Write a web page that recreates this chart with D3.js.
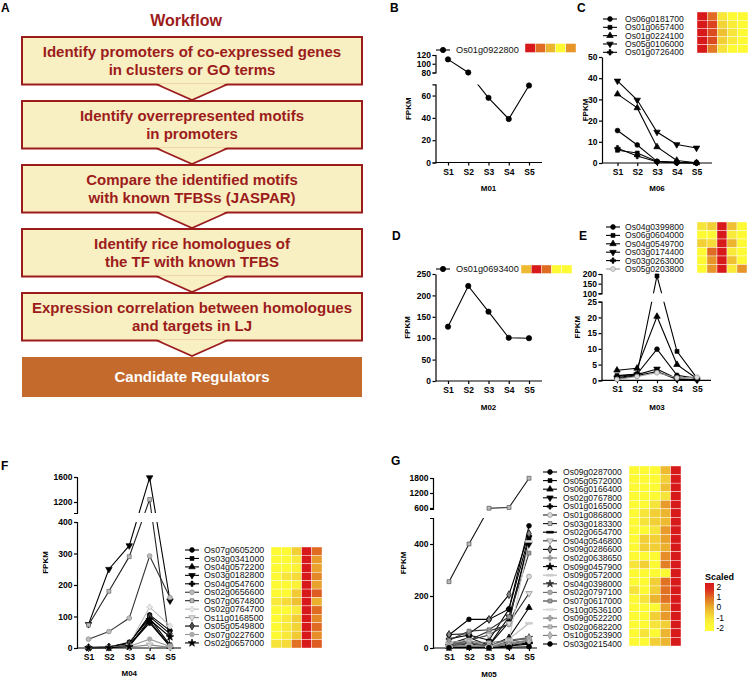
<!DOCTYPE html>
<html><head><meta charset="utf-8">
<script src="https://cdn.jsdelivr.net/npm/d3@7"></script>
<style>body{margin:0;background:#fff}svg{display:block}</style>
</head><body>
<script>
// ---------------- DATA ----------------
const stages = ["S1","S2","S3","S4","S5"];

const workflowTitle = "Workflow";
const workflowSteps = [
  ["Identify promoters of co-expressed genes","in clusters or GO terms"],
  ["Identify overrepresented motifs","in promoters"],
  ["Compare the identified motifs","with known TFBSs (JASPAR)"],
  ["Identify rice homologues of","the TF with known TFBS"],
  ["Expression correlation between homologues","and targets in LJ"]
];
const workflowResult = "Candidate Regulators";

// Panel B (M01)
const genesB = ["Os01g0922800"];
const fpkmB = [[110, 80, 58, 39, 69]];
const heatB = [[2, 1, -0.1, -1.8, 0.4]];
const ticksB_low = [0, 20, 40, 60];
const ticksB_up = [80, 100, 120];

// Panel C (M06)
const genesC = ["Os06g0181700","Os01g0657400","Os01g0224100","Os05g0106000","Os01g0726400"];
const fpkmC = [
  [15.3, 8.5, 0.8, 0.3, 0.1],
  [6.0, 4.7, 0.7, 0.2, 0.1],
  [32.5, 26.0, 7.6, 1.2, 0.1],
  [38.7, 29.7, 14.6, 8.7, 7.1],
  [7.0, 3.3, 0.6, 0.1, 0.0]
];
const heatC = [
  [2, 1.0, -1.1, -1.8, -1.8],
  [2, 1.5, -0.7, -1.3, -1.8],
  [2, 1.4, -0.3, -1.0, -1.8],
  [2, 1.4, -0.6, -1.2, -1.8],
  [2, 0.8, -1.0, -1.8, -1.8]
];
const ticksC = [0, 10, 20, 30, 40, 50];

// Panel D (M02)
const genesD = ["Os01g0693400"];
const fpkmD = [[127, 222, 162, 101, 100]];
const heatD = [[-0.2, 2, 1.0, -1.8, -1.8]];
const ticksD = [0, 50, 100, 150, 200, 250];

// Panel E (M03)
const genesE = ["Os04g0399800","Os06g0604000","Os04g0549700","Os03g0174400","Os03g0263000","Os05g0203800"];
const fpkmE = [
  [1.2, 2.0, 9.9, 1.6, 0.6],
  [1.5, 2.0, 190, 9.2, 0.7],
  [3.2, 3.8, 20.3, 5.0, 0.5],
  [0.8, 1.8, 3.6, 0.5, 0.2],
  [0.5, 1.5, 2.8, 0.3, 0.1],
  [0.3, 1.2, 2.4, 0.8, 1.0]
];
const heatE = [
  [-1.0, -0.6, 2, -0.3, -1.8],
  [-1.8, -1.8, 2, -1.2, -1.8],
  [-0.6, -0.8, 2, -0.1, -1.8],
  [-1.8, 1.0, 2, -1.2, -1.8],
  [-1.8, 0.4, 2, -0.3, -1.8],
  [-1.8, 0.4, 2, -1.2, 0.4]
];
const ticksE_low = [0, 5, 10, 15, 20, 25];
const ticksE_up = [100, 150, 200];

// Panel F (M04)
const genesF = ["Os07g0605200","Os03g0341000","Os04g0572200","Os03g0182800","Os04g0547600","Os02g0656600",
  "Os07g0674800","Os02g0764700","Os11g0168500","Os05g0549800","Os07g0227600","Os02g0657000"];
const fpkmF = [
  [2, 4, 15, 105, 55],
  [1, 3, 18, 95, 10],
  [1, 3, 10, 85, 5],
  [75, 250, 325, 1590, 150],
  [0.5, 2, 8, 80, 5],
  [28, 52, 95, 292, 160],
  [73, 180, 290, 1240, 8],
  [2, 5, 12, 130, 70],
  [0.5, 1, 3, 10, 2],
  [1, 3, 15, 100, 45],
  [1, 2, 5, 28, 5],
  [0.5, 1, 4, 90, 35]
];
const heatF = [
  [-1.8, -1.8, -0.6, 2, 1.0],
  [-1.8, -1.8, -1.2, 2, 0.3],
  [-1.8, -1.8, -1.5, 2, 0.2],
  [-1.8, -1.0, -0.8, 2, 0.6],
  [-1.8, -1.8, -1.5, 2, 0.2],
  [-1.8, -1.8, -0.5, 2, 1.2],
  [-1.2, -0.8, -0.3, 2, 0.0],
  [-1.8, -1.8, -1.2, 2, 1.0],
  [-1.8, -1.2, -0.6, 2, 0.6],
  [-1.8, -1.2, -0.7, 2, 1.0],
  [-1.8, -1.2, -0.5, 2, 0.5],
  [-1.0, -0.8, 0.9, 2, 1.2]
];
const ticksF_low = [0, 100, 200, 300, 400];
const ticksF_up = [1200, 1600];

// Panel G (M05)
const genesG = ["Os09g0287000","Os05g0572000","Os06g0166400","Os02g0767800","Os01g0165000","Os01g0868000",
  "Os03g0183300","Os02g0654700","Os04g0546800","Os09g0286600","Os02g0638650","Os09g0457900","Os09g0572000",
  "Os04g0398000","Os02g0797100","Os07g0617000","Os10g0536100","Os09g0522200","Os02g0682200","Os10g0523900","Os03g0215400"];
const fpkmG = [
  [50, 110, 110, 150, 470],
  [10, 20, 10, 100, 420],
  [5, 10, 5, 40, 155],
  [15, 40, 10, 120, 400],
  [35, 50, 30, 150, 430],
  [20, 30, 65, 90, 275],
  [255, 400, 590, 620, 1790],
  [3, 5, 3, 10, 20],
  [10, 30, 50, 95, 210],
  [52, 55, 110, 205, 440],
  [5, 10, 5, 20, 30],
  [2, 5, 2, 8, 15],
  [20, 30, 5, 35, 95],
  [8, 15, 8, 25, 40],
  [10, 20, 10, 30, 40],
  [30, 65, 70, 120, 365],
  [5, 10, 5, 30, 410],
  [3, 8, 3, 15, 30],
  [15, 25, 20, 30, 35],
  [5, 8, 5, 12, 25],
  [1, 2, 1, 3, 5]
];
const heatG = [
  [-1.8,-1.8,-1.8,-0.2,2],[-1.8,-1.8,-1.8,-0.6,2],[-1.8,-1.8,-1.8,-0.3,2],[-1.8,-1.8,-1.8,-1.0,2],
  [-1.8,-1.8,-1.0,0.3,2],[-1.8,-1.0,-0.6,-0.1,2],[-1.8,-1.0,-0.6,-0.2,2],[-1.8,-1.8,-1.0,0.3,2],
  [-1.8,-0.6,-0.6,0.2,2],[-1.8,-0.6,-0.6,0.0,2],[-1.8,-1.8,-1.8,0.5,2],[-1.0,-0.6,-1.8,0.7,2],
  [-1.8,-1.8,-1.8,-1.8,2],[-1.8,-1.8,-0.6,0.9,2],[-1.0,-1.8,-0.6,0.9,2],[-1.8,-1.0,-0.1,0.9,2],
  [-1.8,-1.8,-1.8,0.2,2],[-1.8,-1.8,-0.6,0.3,2],[-1.8,-1.8,-1.0,-0.6,2],[-1.8,-1.0,-1.8,-0.1,2],
  [-1.8,-1.8,-0.6,-0.1,2]
];
const ticksG_low = [0, 200, 400];
const ticksG_up = [600, 1200, 1800];

const colorbarTicks = [2, 1, 0, -1, -2];

// ---------------- STYLES ----------------
const FONT = "'Liberation Sans', Arial, Helvetica, sans-serif";
const DARKRED = "#9c1c1c";
const BOXFILL = "#f8efc2";
const RESULTFILL = "#c46a2d";
const heatColor = d3.scaleLinear().domain([-2,-1,0,1,2])
  .range(["#ffff33","#f7e43a","#ebb02e","#e06b22","#d7191c"]);

const st = (shape, fill, stroke, line) => ({shape, fill, stroke, line});
const stylesB = [st("circle","#000","#000","#000")];
const stylesD = [st("circle","#000","#000","#000")];
const stylesC = [st("circle","#000","#000","#000"), st("square","#000","#000","#000"), st("triangle","#000","#000","#000"),
  st("triangleDown","#000","#000","#000"), st("plus","#000","#000","#000")];
const stylesE = [st("circle","#000","#000","#000"), st("square","#000","#000","#000"), st("triangle","#000","#000","#000"),
  st("triangleDown","#000","#000","#000"), st("plus","#000","#000","#000"), st("circle","#ddd","#999","#999")];
const stylesF = [st("circle","#000","#000","#000"), st("square","#000","#000","#000"), st("triangle","#000","#000","#000"),
  st("triangleDown","#000","#000","#000"), st("plus","#000","#000","#000"), st("circle","#bbb","#888","#333"),
  st("square","#bbb","#666","#222"), st("plus","#eee","#ccc","#bbb"), st("triangleDown","#ddd","#999","#888"),
  st("diamond","#555","#000","#000"), st("circle","#aaa","#aaa","#999"), st("times","#000","#000","#000")];
const stylesG = [st("circle","#000","#000","#000"), st("square","#000","#000","#000"), st("triangle","#000","#000","#000"),
  st("triangleDown","#000","#000","#000"), st("plus","#000","#000","#000"), st("circle","#ddd","#888","#222"),
  st("square","#bbb","#555","#111"), st("dash","#000","#000","#000"), st("triangleDown","#ddd","#888","#333"),
  st("diamond","#888","#000","#000"), st("plus","#999","#999","#777"), st("times","#000","#000","#000"),
  st("dash","#ccc","#ccc","#bbb"), st("times","#333","#333","#333"), st("circle","#aaa","#888","#666"),
  st("square","#999","#666","#333"), st("dash","#ddd","#ddd","#ccc"), st("plus","#aaa","#888","#777"),
  st("square","#bbb","#999","#666"), st("diamond","#bbb","#888","#777"), st("circle","#000","#000","#000")];

// ---------------- DRAW ----------------
const W = 748, H = 678;
const svg = d3.select("body").append("svg").attr("width", W).attr("height", H)
  .style("font-family", FONT);
const defs = svg.append("defs");

// Panel labels
[["A",1,12],["B",390,12],["C",577,12],["D",392,240],["E",579,240],["F",1,470],["G",391,465]].forEach(([t,x,y]) =>
  svg.append("text").attr("x",x).attr("y",y).text(t).attr("font-size",12).attr("font-weight","bold").attr("fill","#000"));

// ---- Panel A: workflow ----
(function(){
  const g = svg.append("g");
  const bx = 22, bw = 340, cx = bx + bw/2;
  const tops = [37, 101, 165, 229, 293];
  const bh = 47.5;
  g.append("text").attr("x",186).attr("y",20).attr("dy","0.35em").attr("text-anchor","middle")
    .attr("font-size",16).attr("font-weight","bold").attr("fill",DARKRED).text(workflowTitle);
  workflowSteps.forEach((lines,i) => {
    const t = tops[i];
    g.append("rect").attr("x",bx).attr("y",t).attr("width",bw).attr("height",bh)
      .attr("fill",BOXFILL).attr("stroke",DARKRED).attr("stroke-width",2);
    lines.forEach((ln,j) => g.append("text").attr("x",cx).attr("y",t+15+j*18).attr("dy","0.35em")
      .attr("text-anchor","middle").attr("font-size",15).attr("font-weight","bold").attr("fill",DARKRED).text(ln));
  });
  const resTop = 357;
  g.append("rect").attr("x",bx).attr("y",resTop).attr("width",bw).attr("height",40).attr("fill",RESULTFILL);
  g.append("text").attr("x",cx).attr("y",resTop+20).attr("dy","0.35em").attr("text-anchor","middle")
    .attr("font-size",15).attr("font-weight","bold").attr("fill","#fff").text(workflowResult);
  // arrows
  tops.forEach((t,i) => {
    const b = t + bh, next = (i < tops.length-1 ? tops[i+1] : resTop) - 1;
    g.append("path").attr("d",`M${cx-35},${b-1.2}L${cx+35},${b-1.2}L${cx},${next}Z`).attr("fill",BOXFILL);
    g.append("path").attr("d",`M${cx-35},${b}L${cx},${next}L${cx+35},${b}`).attr("fill","none")
      .attr("stroke",DARKRED).attr("stroke-width",1.8);
  });
})();

// ---- Symbols ----
function symPath(shape, size) {
  const s = Math.sqrt(size);
  switch(shape) {
    case "circle": return d3.symbol(d3.symbolCircle, size)();
    case "square": return d3.symbol(d3.symbolSquare, size*0.85)();
    case "triangle": return d3.symbol(d3.symbolTriangle, size)();
    case "triangleDown": return d3.symbol(d3.symbolTriangle, size)();
    case "diamond": return d3.symbol(d3.symbolDiamond, size)();
    case "plus": return d3.symbol(d3.symbolCross, size*0.9)();
    case "times": return d3.symbol(d3.symbolStar, size)();
    case "dash": { const a = s*0.8; return `M${-a},-0.9h${2*a}v1.8h${-2*a}Z`; }
  }
  return d3.symbol(d3.symbolCircle, size)();
}
function drawSym(g, x, y, sty, size) {
  g.append("path").attr("d", symPath(sty.shape, size))
    .attr("transform", `translate(${x},${y})` + (sty.shape === "triangleDown" ? " rotate(180)" : ""))
    .attr("fill", sty.fill).attr("stroke", sty.stroke).attr("stroke-width", 0.7);
}

// ---- Line panels ----
function panel(p) {
  const g = svg.append("g");
  const x = d3.scalePoint().domain(stages).range([p.s1, p.s5]);
  const segs = p.segs.map(s => Object.assign({}, s, {scale: d3.scaleLinear().domain(s.domain).range(s.range)}));
  const y = v => {
    if (segs.length === 1) return segs[0].scale(v);
    const lo = segs[0], up = segs[1];
    if (v <= lo.domain[1]) return lo.scale(v);
    if (v >= up.domain[0]) return up.scale(v);
    return lo.range[1] + (v - lo.domain[1]) / (up.domain[0] - lo.domain[1]) * (up.range[0] - lo.range[1]);
  };
  const cid = "clip" + p.id;
  const cp = defs.append("clipPath").attr("id", cid);
  if (segs.length === 1) {
    cp.append("rect").attr("x",0).attr("y",0).attr("width",W).attr("height",H);
  } else {
    cp.append("rect").attr("x",0).attr("y",segs[0].range[1]).attr("width",W).attr("height",H);
    cp.append("rect").attr("x",0).attr("y",0).attr("width",W).attr("height",segs[1].range[0]);
  }
  // axes
  const axStyle = sel => {
    sel.selectAll("path,line").attr("stroke","#000").attr("stroke-width",1.2);
    sel.selectAll("text").attr("font-size",8.5).attr("font-weight","bold").attr("fill","#000").attr("font-family",FONT);
  };
  segs.forEach(s => {
    const a = g.append("g").attr("transform",`translate(${p.ax},0)`)
      .call(d3.axisLeft(s.scale).tickValues(s.ticks).tickFormat(d3.format("d"))
        .tickSize(3).tickSizeOuter(segs.length > 1 ? 3 : 0).tickPadding(1.5));
    axStyle(a);
  });
  const xa = g.append("g").attr("transform",`translate(0,${p.ay})`)
    .call(d3.axisBottom(x).tickSize(3).tickPadding(3));
  xa.select(".domain").remove();
  xa.append("line").attr("x1",p.ax).attr("x2",p.xEnd).attr("y1",0).attr("y2",0);
  axStyle(xa);

  // lines
  const line = d3.line().x((d,i) => x(stages[i])).y(d => y(d));
  p.values.forEach((vals,k) => {
    g.append("path").attr("d", line(vals)).attr("fill","none")
      .attr("stroke", p.styles[k].line).attr("stroke-width", 1.1).attr("clip-path", `url(#${cid})`);
  });
  p.values.forEach((vals,k) => vals.forEach((v,i) => drawSym(g, x(stages[i]), y(v), p.styles[k], p.symSize)));

  // labels
  g.append("text").attr("transform",`translate(${p.ylabX},${(p.ay + (segs[segs.length-1].range[1]))/2}) rotate(-90)`)
    .attr("dy","0.35em").attr("text-anchor","middle").attr("font-size",8).attr("font-weight","bold").text("FPKM");
  g.append("text").attr("x", x("S3")).attr("y", p.mY).attr("text-anchor","middle")
    .attr("font-size",8).attr("font-weight","bold").text(p.mlabel);

  // legend
  p.genes.forEach((name,k) => {
    const ly = p.leg.y0 + k * p.leg.dy;
    g.append("line").attr("x1",p.leg.sx-7).attr("x2",p.leg.sx+7).attr("y1",ly).attr("y2",ly)
      .attr("stroke",p.styles[k].line).attr("stroke-width",1.1);
    drawSym(g, p.leg.sx, ly, p.styles[k], p.symSize);
    g.append("text").attr("x",p.leg.tx).attr("y",ly).attr("dy","0.35em")
      .attr("font-size",p.legFont).attr("fill","#111").text(name);
  });
  // heatmap
  const rh = p.hm.h / p.heat.length, cw = p.hm.w / 5;
  p.heat.forEach((row,i) => row.forEach((v,j) => {
    g.append("rect").attr("x",p.hm.x + j*cw).attr("y",p.hm.y + i*rh).attr("width",cw).attr("height",rh)
      .attr("fill",heatColor(v)).attr("stroke","#fff").attr("stroke-width",0.4);
  }));
}

panel({id:"B", genes:genesB, values:fpkmB, heat:heatB, styles:stylesB, symSize:22,
  ax:435.5, ay:162.5, s1:448, s5:529, xEnd:542,
  segs:[{domain:[0,70], range:[162.5,84.4], ticks:ticksB_low},{domain:[80,120], range:[72.5,55], ticks:ticksB_up}],
  leg:{sx:443, tx:456, y0:50, dy:0}, legFont:9.2, hm:{x:525, y:43.5, w:51, h:9},
  ylabX:408, mlabel:"M01", mY:191});

panel({id:"C", genes:genesC, values:fpkmC, heat:heatC, styles:stylesC, symSize:18,
  ax:602, ay:163, s1:617.5, s5:696.5, xEnd:712,
  segs:[{domain:[0,50], range:[163,57], ticks:ticksC}],
  leg:{sx:610, tx:625, y0:19, dy:8.33}, legFont:8.6, hm:{x:697, y:12, w:51, h:41},
  ylabX:585, mlabel:"M06", mY:191});

panel({id:"D", genes:genesD, values:fpkmD, heat:heatD, styles:stylesD, symSize:22,
  ax:435.5, ay:381, s1:448, s5:529, xEnd:542,
  segs:[{domain:[0,250], range:[381,274], ticks:ticksD}],
  leg:{sx:443, tx:456, y0:269, dy:0}, legFont:9.2, hm:{x:521, y:265, w:51, h:8.5},
  ylabX:407, mlabel:"M02", mY:410});

panel({id:"E", genes:genesE, values:fpkmE, heat:heatE, styles:stylesE, symSize:18,
  ax:601.5, ay:380.3, s1:617, s5:697, xEnd:711,
  segs:[{domain:[0,25], range:[380.3,301.7], ticks:ticksE_low},{domain:[100,200], range:[293.3,274], ticks:ticksE_up}],
  leg:{sx:613, tx:625, y0:227, dy:8.4}, legFont:8.6, hm:{x:697, y:222, w:50, h:51},
  ylabX:577, mlabel:"M03", mY:410});

panel({id:"F", genes:genesF, values:fpkmF, heat:heatF, styles:stylesF, symSize:18,
  ax:77, ay:648, s1:88.5, s5:170, xEnd:181,
  segs:[{domain:[0,400], range:[648,522], ticks:ticksF_low},{domain:[1024,1600], range:[513,477], ticks:ticksF_up}],
  leg:{sx:192, tx:204, y0:550, dy:8.45}, legFont:8.8, hm:{x:271, y:547, w:51, h:101},
  ylabX:45, mlabel:"M04", mY:676});

panel({id:"G", genes:genesG, values:fpkmG, heat:heatG, styles:stylesG, symSize:18,
  ax:433, ay:648, s1:449, s5:529, xEnd:537,
  segs:[{domain:[0,500], range:[648,518], ticks:ticksG_low},{domain:[560,1800], range:[509,478], ticks:ticksG_up}],
  leg:{sx:550, tx:563, y0:472, dy:8.6}, legFont:8.6, hm:{x:629, y:466, w:52, h:180},
  ylabX:403, mlabel:"M05", mY:677});

// ---- Colorbar ----
(function(){
  const g = svg.append("g");
  const cbY = d3.scaleLinear().domain([2,-2]).range([587,628]);
  const grad = defs.append("linearGradient").attr("id","cbgrad").attr("x1",0).attr("x2",0).attr("y1",0).attr("y2",1);
  const top = 583, bot = 631;
  d3.range(0, 1.0001, 0.125).forEach(f => {
    const yy = top + f*(bot-top);
    grad.append("stop").attr("offset", f).attr("stop-color", heatColor(Math.max(-2, Math.min(2, cbY.invert(yy)))));
  });
  g.append("rect").attr("x",705).attr("y",top).attr("width",9).attr("height",bot-top).attr("fill","url(#cbgrad)");
  g.append("text").attr("x",705).attr("y",577).attr("dy","0.35em").attr("font-size",9).attr("font-weight","bold").text("Scaled");
  colorbarTicks.forEach(t => g.append("text").attr("x",716.5).attr("y",cbY(t)).attr("dy","0.35em")
    .attr("font-size",8.5).text(t < 0 ? "-" + Math.abs(t) : t));
})();
</script>
</body></html>
